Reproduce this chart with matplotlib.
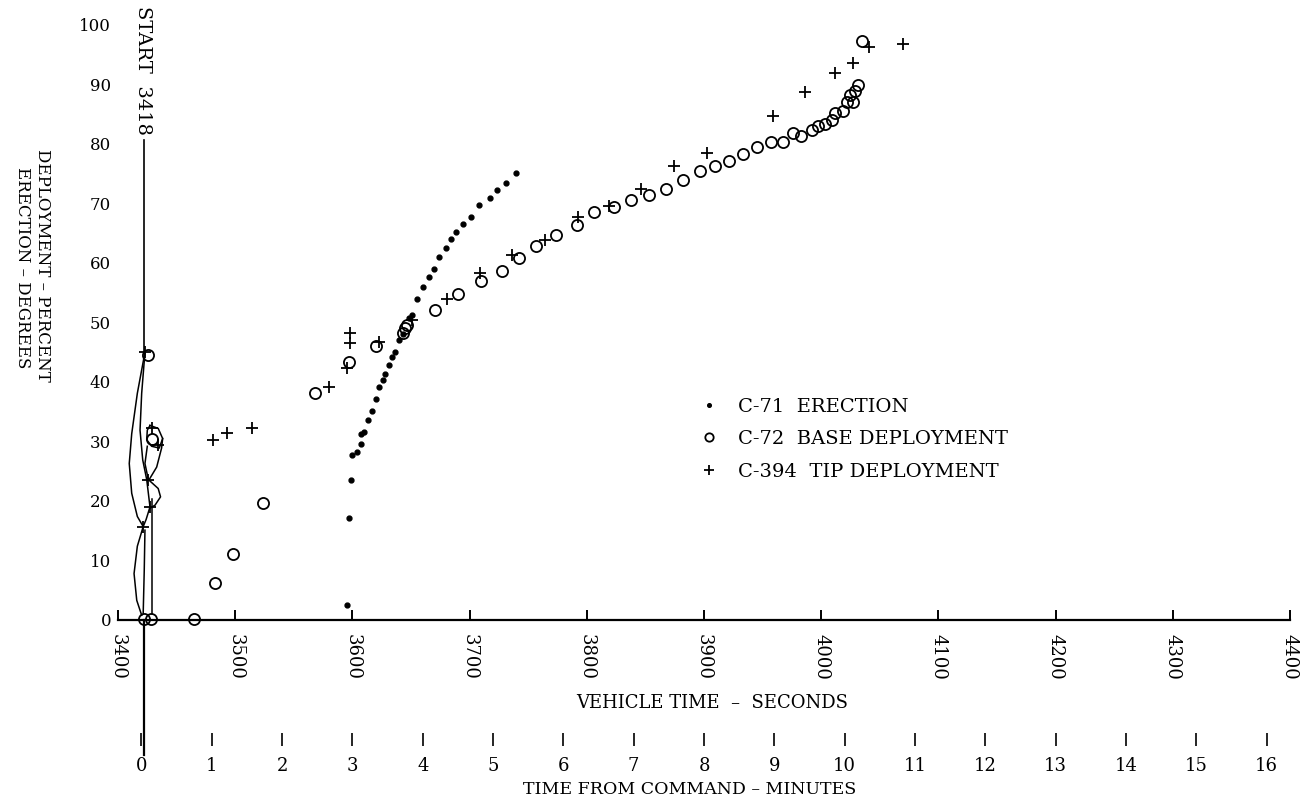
import numpy as np
import matplotlib
matplotlib.use('Agg')
import matplotlib.pyplot as plt

plt.rcParams['font.family'] = ['DejaVu Serif']
plt.rcParams['font.size'] = 12

# C-71 erection (degrees)
erect_t = [3595.6, 3597, 3598.5, 3600, 3603.6, 3607, 3607, 3610, 3613.6, 3616.4,
           3620, 3623, 3626, 3627.8, 3631.5, 3634, 3636, 3640, 3643.5, 3648,
           3650.6, 3655, 3660.5, 3665.6, 3669.6, 3674, 3680, 3684, 3688, 3694.6,
           3701, 3708, 3717.4, 3723, 3731, 3739.6]
erect_v = [2.5, 17.1, 23.6, 27.7, 28.3, 29.6, 31.2, 31.6, 33.6, 35.2,
           37.2, 39.1, 40.4, 41.4, 42.8, 44.2, 45.1, 47.1, 48.1, 50.7,
           51.3, 54.0, 56.0, 57.7, 59.0, 61.0, 62.6, 64.0, 65.2, 66.6,
           67.8, 69.8, 70.9, 72.2, 73.5, 75.2]

# C-72 base deployment (percent)
base_t = [3422, 3428, 3425.9, 3428.7, 3465, 3483, 3498, 3523.5, 3568, 3597,
          3620, 3643, 3645, 3647, 3670.5, 3690.5, 3710, 3728, 3742, 3757,
          3774, 3792, 3806, 3823, 3838, 3853, 3868, 3882, 3896.6, 3909.4,
          3921.6, 3933.5, 3945.5, 3956.8, 3967, 3975.6, 3982.5, 3991.9, 3997.5, 4003.2,
          4009, 4011.8, 4018.3, 4022.2, 4027.4, 4024.6, 4028.9, 4031.7, 4034.5]
base_v = [0.1, 0.2, 44.5, 30.5, 0.1, 6.2, 11.1, 19.7, 38.2, 43.4,
          46.1, 48.3, 49.0, 49.6, 52.1, 54.8, 57.0, 58.7, 60.8, 62.8,
          64.7, 66.4, 68.6, 69.4, 70.6, 71.5, 72.5, 74.0, 75.4, 76.3,
          77.1, 78.3, 79.5, 80.4, 80.4, 81.8, 81.4, 82.4, 83.1, 83.3,
          84.0, 85.2, 85.6, 87.0, 87.1, 88.3, 88.9, 89.9, 97.3]

# C-394 tip deployment (percent)
tip_t = [3423, 3428.7, 3434.3, 3426, 3427.3, 3421.5, 3481, 3493, 3514, 3580,
         3595, 3598, 3598, 3623, 3650.5, 3680.4, 3709, 3736, 3764, 3792.7,
         3819, 3846, 3874.4, 3902.8, 3958.5, 3986, 4011.8, 4027.4, 4041, 4069.5]
tip_v = [45.0, 32.2, 29.4, 23.6, 19.0, 15.7, 30.2, 31.4, 32.3, 39.2,
         42.4, 46.6, 48.3, 46.8, 50.4, 54.0, 58.3, 61.3, 63.9, 67.7,
         69.6, 72.4, 76.3, 78.5, 84.7, 88.8, 92.0, 93.6, 96.3, 96.8]

# hand drawn traces near the start of the command
trace_t = [
    [3423, 3416.5, 3411.7, 3409.6, 3411.7, 3416.5, 3421.5],
    [3423, 3420.2, 3418.8, 3421.1, 3424.5, 3427.3, 3424, 3421.5],
    [3421.5, 3416.5, 3413.7, 3416, 3420.2],
    [3423, 3422.4, 3421.5],
    [3428.7, 3428.7],
    [3427.3, 3434.3, 3438.1, 3435.2, 3428.7, 3424.5, 3425, 3427.3],
    [3425, 3423, 3425.9, 3434.3, 3436.3, 3431.6, 3427.3],
    [3438.1, 3437.2, 3433, 3426.6],
]
trace_v = [
    [45.0, 38.1, 31.3, 26.3, 21.3, 17.4, 15.7],
    [45.0, 38.1, 31.9, 26.9, 23.6, 19.0, 16.9, 15.7],
    [15.7, 12.4, 7.8, 3.3, 0.8],
    [15.1, 8.4, 1.1],
    [20.3, 1.0],
    [32.7, 32.2, 30.5, 28.9, 29.2, 30.3, 31.9, 32.7],
    [29.2, 26.3, 23.6, 22.1, 20.7, 19.3, 18.8],
    [30.5, 28.9, 25.7, 23.6],
]

start_t = 3422
min_zero = 3420
sec_ticks = np.arange(3400, 4401, 100)
min_ticks = np.arange(0, 17)
y_ticks = np.arange(0, 101, 10)

fig = plt.figure(figsize=(13.07, 8.10), dpi=100)
ax = fig.add_axes([118 / 1307, 1 - 620 / 810, 1172 / 1307, 595 / 810])
ax.set_xlim(3400, 4400)
ax.set_ylim(0, 100)

for s in ['top', 'right', 'left']:
    ax.spines[s].set_visible(False)
ax.spines['bottom'].set_linewidth(1.6)

ax.set_xticks(sec_ticks)
ax.set_xticklabels([str(t) for t in sec_ticks], rotation=-90, fontsize=13)
ax.tick_params(axis='x', direction='in', length=7, width=1.4, pad=10)
ax.set_yticks(y_ticks)
ax.set_yticklabels([str(v) for v in y_ticks], fontsize=12)
ax.tick_params(axis='y', length=0, pad=5)

# start line and hand drawn traces
ax.plot([start_t, start_t], [45.0, 80.7], color='k', lw=1.2, clip_on=False)
ax.plot([start_t, start_t], [0, -22.7], color='k', lw=1.6, clip_on=False)
for tt, vv in zip(trace_t, trace_v):
    ax.plot(tt, vv, color='k', lw=1.1, clip_on=False)
ax.text(start_t - 1, 81.5, 'START  3418', rotation=-90, ha='center', va='bottom',
        fontsize=14, clip_on=False)

ax.plot(erect_t, erect_v, 'o', color='k', ms=3.5, ls='none', clip_on=False,
        label='C-71  ERECTION')
ax.plot(base_t, base_v, 'o', mfc='none', mec='k', mew=1.3, ms=8, ls='none',
        clip_on=False, label='C-72  BASE DEPLOYMENT')
ax.plot(tip_t, tip_v, '+', color='k', mew=1.3, ms=9, ls='none', clip_on=False,
        label='C-394  TIP DEPLOYMENT')

leg = ax.legend(loc='upper left', bbox_to_anchor=(680 / 1307, 1 - 380 / 810),
                bbox_transform=fig.transFigure, frameon=False, fontsize=14,
                handlelength=1.2, handletextpad=0.9, labelspacing=0.75,
                markerscale=0.75)

# minutes axis below
sec = ax.secondary_xaxis(-0.19, functions=(lambda s: (s - min_zero) / 60,
                                           lambda m: m * 60 + min_zero))
sec.set_xticks(min_ticks)
sec.set_xticklabels([str(m) for m in min_ticks], fontsize=13)
sec.spines['bottom'].set_visible(False)
sec.tick_params(axis='x', direction='out', length=9, width=1.2, pad=8)

fig.text(712 / 1307, 1 - 703 / 810, 'VEHICLE TIME  \u2013  SECONDS', ha='center',
         va='center', fontsize=13)
fig.text(690 / 1307, 1 - 790 / 810, 'TIME FROM COMMAND \u2013 MINUTES', ha='center',
         va='center', fontsize=12.5)
fig.text(42 / 1307, 1 - 265 / 810, 'DEPLOYMENT \u2013 PERCENT', rotation=-90,
         ha='center', va='center', fontsize=12)
fig.text(22 / 1307, 1 - 268 / 810, 'ERECTION \u2013 DEGREES', rotation=-90,
         ha='center', va='center', fontsize=12)

fig.savefig('out.png', dpi=100)
